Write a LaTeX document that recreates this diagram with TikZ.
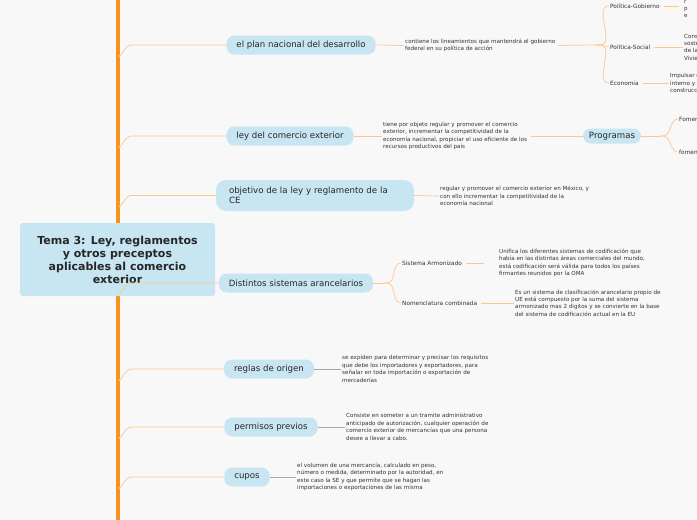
\documentclass[tikz,border=0pt]{standalone}
\usepackage{fontspec}
\setmainfont{DejaVu Sans}
\begin{document}
\begin{tikzpicture}[x=1pt,y=-1pt,
  pill/.style={fill=nodeblue,rounded corners=8pt,minimum height=19pt,inner xsep=10pt,font=\fontsize{8.6}{9}\selectfont,text=black!85},
  small/.style={font=\fontsize{5.6}{7.4}\selectfont,text=black!80,align=left,anchor=west,inner sep=1pt},
  lbl/.style={font=\fontsize{5.8}{7}\selectfont,text=black!80,anchor=west,inner sep=1pt},
  br/.style={draw=orange!45,line width=0.7pt},
  gr/.style={draw=black!35,line width=0.8pt}]
\definecolor{nodeblue}{HTML}{C7E6F1}
\definecolor{bg}{HTML}{F8F8F8}
\definecolor{trunk}{HTML}{F7931E}
\fill[bg] (0,0) rectangle (697,520);
\useasboundingbox (0,0) rectangle (697,520);
\clip (0,0) rectangle (697,520);
\draw[trunk,line width=3.5pt] (118,0) -- (118,520);
% main
\node[fill=nodeblue,rounded corners=3pt,minimum width=195pt,minimum height=73pt,align=center,font=\fontsize{11}{13}\bfseries\selectfont,text=black!85] (main) at (117.5,259.5) {Tema 3: Ley, reglamentos\\y otros preceptos\\aplicables al comercio\\exterior};
% nodes
\node[pill] (pnd) at (301,45) {el plan nacional del desarrollo};
\node[pill] (lce) at (290,136) {ley del comercio exterior};
\node[fill=nodeblue,rounded corners=10pt,minimum width=198pt,minimum height=31pt,text width=172pt,align=left,font=\fontsize{8.6}{10}\selectfont,text=black!85] (obj) at (315,195.5) {objetivo de la ley y reglamento de la CE};
\node[pill] (dsa) at (296,283) {Distintos sistemas arancelarios};
\node[pill] (rdo) at (269,369) {reglas de origen};
\node[pill] (pp) at (271,427) {permisos previos};
\node[pill] (cup) at (247,477) {cupos};
% branches from trunk
\foreach \n in {pnd,lce,obj,dsa,rdo,pp,cup}{
  \draw[br] (119,0 |- \n.west) ++(0,10) to[out=-90,in=180] ++(12,-10) -- (\n.west);
}
% descriptions
\node[small] (t1) at (404,45.5) {contiene los lineamientos que mantendrá el gobierno\\federal en su política de acción};
\draw[br] (pnd.east) -- (t1.west);
\node[small] (t2) at (382,136) {tiene por objeto regular y promover el comercio\\exterior, incrementar la competitividad de la\\economía nacional, propiciar el uso eficiente de los\\recursos productivos del país};
\draw[br] (lce.east) -- (t2.west);
\node[small] (t3) at (439,196) {regular y promover el comercio exterior en México, y\\con ello incrementar la competitividad de la\\economía nacional};
\draw[br] (obj.east) -- (t3.west);
\node[small] (t4) at (341,369) {se expiden para determinar y precisar los requisitos\\que debe los importadores y exportadores, para\\señalar en toda importación o exportación de\\mercaderías};
\draw[gr] (rdo.east) -- (t4.west);
\node[small] (t5) at (345,427) {Consiste en someter a un tramite administrativo\\anticipado de autorización, cualquier operación de\\comercio exterior de mercancías que una persona\\desee a llevar a cabo.};
\draw[gr] (pp.east) -- (t5.west);
\node[small] (t6) at (296,477) {el volumen de una mercancía, calculado en peso,\\número o medida, determinado por la autoridad, en\\este caso la SE y que permite que se hagan las\\importaciones o exportaciones de las misma};
\draw[gr] (cup.east) -- (t6.west);
% plan sub
\coordinate (f1) at (596,45);
\draw[br] (t1.east) ++(2,0) -- (f1);
\node[lbl] (pg) at (609,6) {Política-Gobierno};
\node[lbl] (ps) at (609,47) {Política-Social};
\node[lbl] (ec) at (609,83) {Economia};
\foreach \n in {pg,ps,ec}{\draw[br] (f1) -- ++(4,0) to[out=0,in=180] (\n.west);}
\node[small] (pg2) at (683,9) {r\\p\\e};
\node[small] (ps2) at (683,47) {Construcción\\sostenible\\de la\\Vivienda};
\node[small] (ec2) at (669,83) {Impulsar el mercado\\interno y\\construcción};
\draw[br] (pg.east) ++(3,0) -- ++(15,0);
\draw[br] (ps.east) ++(3,0) -- (ps2.west);
\draw[br] (ec.east) ++(3,0) -- (ec2.west);
% programas
\node[pill,minimum height=15pt,minimum width=58pt,inner xsep=3pt] (prog) at (612,136) {Programas};
\draw[br] (t2.east) ++(3,0) -- (prog.west);
\coordinate (f2) at (660,136);
\draw[br] (prog.east) -- (f2);
\node[lbl] (fo1) at (678,119) {Fomento};
\node[lbl] (fo2) at (678,152) {fomento};
\draw[br] (f2) -- ++(3,0) to[out=0,in=180] (fo1.west);
\draw[br] (f2) -- ++(3,0) to[out=0,in=180] (fo2.west);
% sistemas
\coordinate (f3) at (384,283);
\draw[br] (dsa.east) -- (f3);
\node[lbl] (sa) at (401,263) {Sistema Armonizado};
\node[lbl] (nc) at (401,303) {Nomenclatura combinada};
\draw[br] (f3) -- ++(3,0) to[out=0,in=180] (sa.west);
\draw[br] (f3) -- ++(3,0) to[out=0,in=180] (nc.west);
\node[small] (sa2) at (498,263) {Unifica los diferentes sistemas de codificación que\\había en las distintas áreas comerciales del mundo,\\está codificación será válida para todos los países\\firmantes reunidos por la OMA};
\node[small] (nc2) at (514,303) {Es un sistema de clasificación arancelario propio de\\UE está compuesto por la suma del sistema\\armonizado mas 2 digitos y se convierte en la base\\del sistema de codificación actual en la EU};
\draw[br] (sa.east) ++(3,0) -- ++(18,0);
\draw[br] (nc.east) ++(3,0) -- (nc2.west);
\end{tikzpicture}
\end{document}
